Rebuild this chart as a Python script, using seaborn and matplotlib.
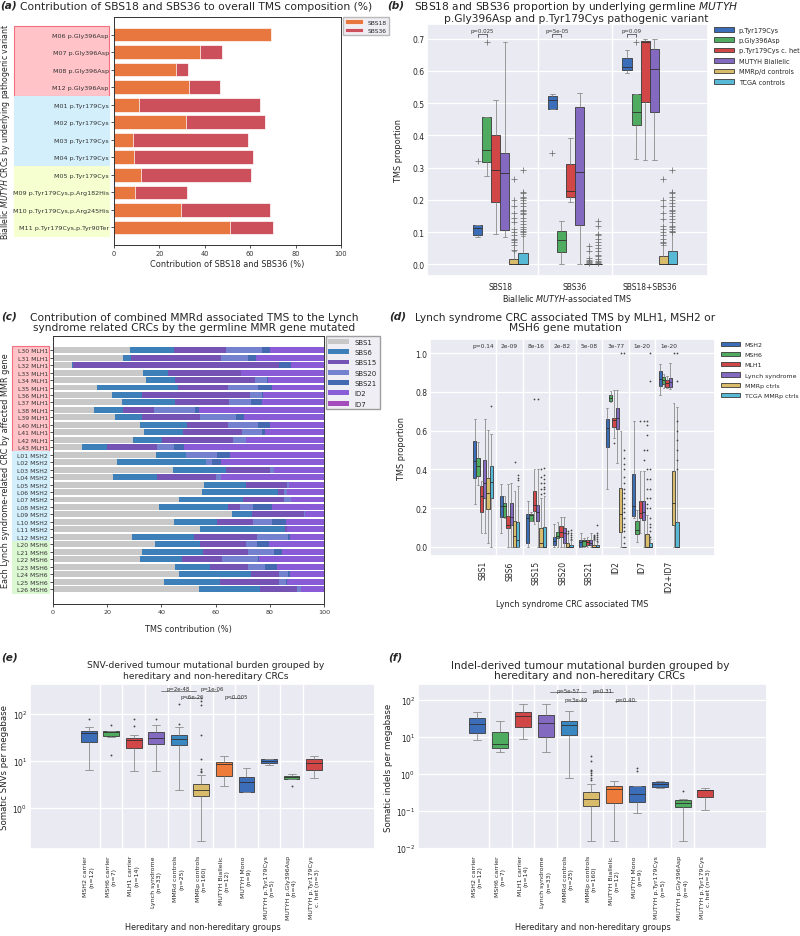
import numpy as np
import pandas as pd
import matplotlib
matplotlib.use("Agg")
import matplotlib.pyplot as plt
import matplotlib.transforms as mtransforms
from matplotlib.patches import Rectangle
import seaborn as sns

# ---------------- panel (a) data ----------------
a_samples = ["M06 p.Gly396Asp", "M07 p.Gly396Asp", "M08 p.Gly396Asp", "M12 p.Gly396Asp",
             "M01 p.Tyr179Cys", "M02 p.Tyr179Cys", "M03 p.Tyr179Cys", "M04 p.Tyr179Cys",
             "M05 p.Tyr179Cys", "M09 p.Tyr179Cys,p.Arg182His", "M10 p.Tyr179Cys,p.Arg245His",
             "M11 p.Tyr179Cys,p.Tyr90Ter"]
a_sbs18 = [69.3, 37.9, 27.4, 33.2, 11.0, 31.8, 8.5, 8.8, 12.1, 9.3, 29.4, 50.9]
a_sbs36 = [0.0, 9.6, 5.1, 13.4, 53.3, 34.7, 50.6, 52.5, 48.2, 22.8, 39.4, 19.2]
a_blocks = [4, 4, 4]

# ---------------- panel (b) data: [whisker low, Q1, median, Q3, whisker high] ----------------
b_cats = ["SBS18", "SBS36", "SBS18+SBS36"]
b_groups = ["p.Tyr179Cys", "p.Gly396Asp", "p.Tyr179Cys c. het", "MUTYH Biallelic",
            "MMRp/d controls", "TCGA controls"]
b_tyr179 = [[0.086, 0.090, 0.113, 0.121, 0.121], [0.483, 0.483, 0.509, 0.522, 0.528], [0.592, 0.603, 0.612, 0.641, 0.663]]
b_gly396 = [[0.275, 0.318, 0.356, 0.457, 0.457], [0.0, 0.038, 0.075, 0.105, 0.133], [0.326, 0.432, 0.471, 0.528, 0.528]]
b_chet = [[0.093, 0.193, 0.293, 0.400, 0.508], [0.193, 0.210, 0.228, 0.310, 0.393], [0.322, 0.504, 0.690, 0.693, 0.700]]
b_biallelic = [[0.085, 0.108, 0.284, 0.345, 0.690], [0.0, 0.123, 0.287, 0.488, 0.530], [0.322, 0.472, 0.607, 0.668, 0.700]]
b_mmr = [[0.0, 0.0, 0.0, 0.017, 0.040], [0.0, 0.0, 0.0, 0.0, 0.0], [0.0, 0.0, 0.0, 0.025, 0.060]]
b_tcga = [[0.0, 0.0, 0.0, 0.035, 0.088], [0.0, 0.0, 0.0, 0.0, 0.0], [0.0, 0.0, 0.0, 0.040, 0.100]]
b_out_tyr179 = [[0.32], [0.345], []]
b_out_gly396 = [[0.69], [], [0.69]]
b_out_chet = [[], [], []]
b_out_biallelic = [[], [], []]
b_out_mmr = [[0.045, 0.06, 0.07, 0.075, 0.08, 0.09, 0.10, 0.11, 0.13, 0.145, 0.16, 0.18, 0.20, 0.265],
             [0.003, 0.006, 0.01, 0.015, 0.02, 0.04, 0.057],
             [0.065, 0.07, 0.08, 0.09, 0.10, 0.11, 0.12, 0.14, 0.16, 0.18, 0.20, 0.265]]
b_out_tcga = [[0.095, 0.10, 0.105, 0.11, 0.115, 0.125, 0.135, 0.145, 0.155, 0.16, 0.165, 0.17, 0.18, 0.19, 0.20, 0.205, 0.21, 0.22, 0.225, 0.293],
              [0.003, 0.008, 0.012, 0.018, 0.025, 0.03, 0.04, 0.05, 0.06, 0.07, 0.08, 0.09, 0.095, 0.12, 0.135],
              [0.10, 0.105, 0.11, 0.115, 0.12, 0.13, 0.14, 0.15, 0.16, 0.165, 0.17, 0.18, 0.19, 0.20, 0.21, 0.22, 0.225, 0.293]]
b_pvals = ["p=0.025", "p=5e-05", "p=0.09"]

# ---------------- panel (c) data ----------------
c_samples = ["L30 MLH1", "L31 MLH1", "L32 MLH1", "L33 MLH1", "L34 MLH1", "L35 MLH1", "L36 MLH1",
             "L37 MLH1", "L38 MLH1", "L39 MLH1", "L40 MLH1", "L41 MLH1", "L42 MLH1", "L43 MLH1",
             "L01 MSH2", "L02 MSH2", "L03 MSH2", "L04 MSH2", "L05 MSH2", "L06 MSH2", "L07 MSH2",
             "L08 MSH2", "L09 MSH2", "L10 MSH2", "L11 MSH2", "L12 MSH2",
             "L20 MSH6", "L21 MSH6", "L22 MSH6", "L23 MSH6", "L24 MSH6", "L25 MSH6", "L26 MSH6"]
c_sbs1 = [28.3, 25.9, 7.1, 33.3, 34.2, 16.3, 21.9, 25.4, 15.3, 22.9, 32.0, 33.5, 29.6, 10.7, 37.9, 23.6, 44.1,
          22.3, 55.7, 54.9, 46.6, 39.0, 65.9, 44.7, 54.4, 29.1, 37.8, 32.9, 32.1, 45.2, 46.4, 41.0, 53.9]
c_sbs6 = [16.4, 2.8, 0.3, 9.1, 11.0, 29.9, 11.1, 19.8, 10.6, 10.1, 17.3, 14.5, 10.7, 9.3, 11.1, 32.7, 19.7,
          15.9, 15.4, 28.0, 23.6, 25.4, 7.4, 15.8, 31.2, 22.9, 16.5, 22.3, 15.6, 12.9, 26.5, 20.6, 22.5]
c_sbs15 = [19.1, 33.2, 76.1, 26.8, 29.3, 18.2, 39.7, 19.7, 11.3, 21.2, 15.1, 21.7, 26.0, 18.5, 0.0, 0.0, 16.2,
           21.9, 15.1, 2.3, 15.0, 4.6, 19.4, 13.4, 0.9, 23.1, 17.1, 16.6, 14.6, 13.9, 10.6, 21.9, 13.7]
c_sbs20 = [13.5, 10.1, 0.0, 0.0, 4.3, 11.1, 4.6, 8.1, 15.3, 13.3, 11.1, 7.3, 5.1, 6.3, 11.5, 2.3, 1.5,
           1.8, 1.0, 1.0, 2.6, 4.9, 0.4, 6.9, 0.0, 11.7, 3.7, 9.7, 13.4, 6.2, 3.3, 2.3, 1.3]
c_sbs21 = [2.7, 2.9, 4.3, 0.0, 0.6, 5.2, 0.3, 4.0, 1.4, 2.8, 4.5, 1.4, 0.0, 3.5, 4.8, 3.3, 0.0,
           0.0, 0.0, 0.0, 0.0, 6.9, 0.0, 5.0, 0.0, 0.6, 4.7, 2.9, 0.3, 4.3, 0.6, 0.4, 0.0]
c_id2 = [20.0, 25.1, 12.2, 30.8, 20.6, 19.3, 22.4, 23.0, 46.1, 29.7, 20.0, 21.6, 28.6, 51.7, 34.7, 38.1, 18.5,
         38.1, 12.8, 13.8, 12.2, 19.2, 6.9, 14.2, 13.5, 12.6, 20.2, 15.6, 24.0, 17.5, 12.6, 13.8, 8.6]
c_id7 = [0.0, 0.0, 0.0, 0.0, 0.0, 0.0, 0.0, 0.0, 0.0, 0.0, 0.0, 0.0, 0.0, 0.0, 0.0, 0.0, 0.0,
         0.0, 0.0, 0.0, 0.0, 0.0, 0.0, 0.0, 0.0, 0.0, 0.0, 0.0, 0.0, 0.0, 0.0, 0.0, 0.0]
c_signatures = ["SBS1", "SBS6", "SBS15", "SBS20", "SBS21", "ID2", "ID7"]
c_blocks = [14, 12, 7]

# ---------------- panel (d) data ----------------
d_cats = ["SBS1", "SBS6", "SBS15", "SBS20", "SBS21", "ID2", "ID7", "ID2+ID7"]
d_groups = ["MSH2", "MSH6", "MLH1", "Lynch syndrome", "MMRp ctrls", "TCGA MMRp ctrls"]
d_msh2 = [[0.222, 0.355, 0.445, 0.545, 0.658], [0.073, 0.152, 0.211, 0.26, 0.326], [0.0, 0.017, 0.147, 0.17, 0.234],
          [0.0, 0.009, 0.031, 0.052, 0.12], [0.0, 0.0, 0.026, 0.035, 0.069], [0.298, 0.516, 0.615, 0.661, 0.719],
          [0.147, 0.161, 0.211, 0.377, 0.649], [0.783, 0.831, 0.869, 0.909, 0.947]]
d_msh6 = [[0.32, 0.367, 0.416, 0.457, 0.54], [0.147, 0.152, 0.208, 0.225, 0.26], [0.135, 0.135, 0.164, 0.17, 0.18],
          [0.0, 0.043, 0.055, 0.078, 0.13], [0.0, 0.003, 0.031, 0.035, 0.043], [0.75, 0.753, 0.771, 0.784, 0.805],
          [0.026, 0.066, 0.087, 0.135, 0.19], [0.822, 0.84, 0.861, 0.88, 0.895]]
d_mlh1 = [[0.07, 0.177, 0.26, 0.312, 0.338], [0.0, 0.095, 0.113, 0.159, 0.326], [0.12, 0.187, 0.216, 0.286, 0.4],
          [0.0, 0.052, 0.078, 0.109, 0.152], [0.0, 0.009, 0.023, 0.035, 0.052], [0.563, 0.62, 0.655, 0.667, 0.81],
          [0.069, 0.147, 0.173, 0.237, 0.39], [0.819, 0.828, 0.848, 0.861, 0.883]]
d_lynch = [[0.07, 0.251, 0.33, 0.447, 0.658], [0.0, 0.113, 0.156, 0.225, 0.33], [0.0, 0.135, 0.18, 0.216, 0.4],
           [0.0, 0.017, 0.069, 0.099, 0.152], [0.0, 0.009, 0.017, 0.035, 0.069], [0.433, 0.61, 0.667, 0.719, 0.81],
           [0.0, 0.139, 0.177, 0.234, 0.39], [0.817, 0.828, 0.854, 0.873, 0.952]]
d_mmrp = [[0.017, 0.194, 0.277, 0.355, 0.606], [0.0, 0.0, 0.055, 0.133, 0.29], [0.0, 0.0, 0.017, 0.095, 0.25],
          [0.0, 0.0, 0.0, 0.017, 0.066], [0.0, 0.0, 0.0, 0.009, 0.035], [0.0, 0.078, 0.17, 0.303, 0.6],
          [0.0, 0.0, 0.0, 0.066, 0.165], [0.0, 0.113, 0.225, 0.39, 0.741]]
d_tcga = [[0.0, 0.251, 0.333, 0.416, 0.585], [0.0, 0.0, 0.035, 0.128, 0.315], [0.0, 0.0, 0.0, 0.1, 0.26],
          [0.0, 0.0, 0.0, 0.009, 0.035], [0.0, 0.0, 0.0, 0.009, 0.026], [0.0, 0.0, 0.0, 0.0, 0.0],
          [0.0, 0.0, 0.0, 0.017, 0.04], [0.0, 0.0, 0.0, 0.13, 0.724]]
d_out_msh2 = [[], [], [], [], [], [], [], []]
d_out_msh6 = [[], [], [], [], [], [], [], []]
d_out_mlh1 = [[], [], [0.765], [], [], [0.535], [0.65], []]
d_out_lynch = [[], [], [0.765], [], [], [], [0.45, 0.5, 0.65], []]
d_out_mmrp = [[], [0.438], [0.27, 0.3, 0.33, 0.36, 0.4], [0.07, 0.08], [0.04, 0.045, 0.05, 0.055, 0.06], [1.0],
              [0.2, 0.22, 0.25, 0.3, 0.35, 0.4, 0.5, 0.58, 0.63, 0.65], [1.0]]
d_out_tcga = [[0.73], [0.343, 0.355, 0.37], [0.28, 0.3, 0.31, 0.33, 0.35, 0.37, 0.405], [0.04, 0.05, 0.06, 0.07, 0.085],
              [0.03, 0.04, 0.05, 0.06, 0.07, 0.11],
              [0.02, 0.05, 0.08, 0.1, 0.12, 0.15, 0.18, 0.2, 0.22, 0.25, 0.28, 0.3, 0.33, 0.36, 0.4, 0.43, 0.46, 0.5, 1.0],
              [0.05, 0.08, 0.1, 0.12, 0.15, 0.2, 0.25, 0.3, 0.35, 0.4, 0.855, 1.0],
              [0.4, 0.45, 0.5, 0.55, 0.6, 0.65, 0.855, 1.0]]
d_pvals = ["p=0.14", "2e-09", "8e-16", "2e-82", "5e-08", "3e-77", "1e-20", "1e-20"]

# ---------------- panels (e) and (f) data ----------------
ef_groups = ["MSH2 carrier", "MSH6 carrier", "MLH1 carrier", "Lynch syndrome", "MMRd controls", "MMRp controls",
             "MUTYH Biallelic", "MUTYH Mono", "MUTYH p.Tyr179Cys", "MUTYH p.Gly396Asp", "MUTYH p.Tyr179Cys c. het"]
ef_ticklabels = ["MSH2 carrier\n(n=12)", "MSH6 carrier\n(n=7)", "MLH1 carrier\n(n=14)", "Lynch syndrome\n(n=33)",
                 "MMRd controls\n(n=25)", "MMRp controls\n(n=160)", "MUTYH Biallelic\n(n=12)", "MUTYH Mono\n(n=9)",
                 "MUTYH p.Tyr179Cys\n(n=5)", "MUTYH p.Gly396Asp\n(n=4)", "MUTYH p.Tyr179Cys\nc. het (n=3)"]
e_stats = [[6.4, 25.3, 38.5, 43.0, 54.0], [32.3, 33.8, 41.0, 43.0, 43.0], [6.2, 18.7, 28.3, 31.0, 35.0],
           [6.2, 23.4, 31.2, 41.8, 57.6], [2.43, 22.0, 28.9, 36.6, 53.0], [0.199, 1.79, 2.36, 3.25, 5.1],
           [3.0, 4.7, 8.6, 9.6, 12.8], [2.14, 2.24, 3.65, 4.5, 7.0], [8.2, 9.0, 10.1, 10.9, 10.9],
           [4.15, 4.15, 4.57, 4.9, 5.2], [4.3, 6.5, 8.9, 10.9, 12.8]]
e_outliers = [[78.5], [57.6, 13.1], [78.5, 55.0], [78.5], [162.0, 61.6], [218.0, 190.0, 157.0, 35.0, 10.9, 6.7, 6.2, 5.8],
              [], [], [], [3.0], []]
e_pvals = ["p=2e-48", "p=6e-26", "p=1e-06", "p=0.005"]
f_stats = [[8.1, 12.3, 22.4, 32.6, 47.0], [3.8, 4.8, 6.4, 13.7, 26.7], [8.7, 18.7, 37.0, 45.7, 76.6],
           [3.8, 10.0, 23.5, 38.7, 76.6], [0.78, 11.2, 21.2, 27.2, 48.6], [0.0149, 0.134, 0.21, 0.319, 0.535],
           [0.0149, 0.164, 0.39, 0.46, 0.63], [0.088, 0.178, 0.287, 0.46, 0.46], [0.41, 0.435, 0.535, 0.59, 0.63],
           [0.0149, 0.126, 0.164, 0.2, 0.21], [0.106, 0.234, 0.36, 0.368, 0.41]]
f_outliers = [[], [], [], [], [], [2.98, 2.27, 1.3, 1.18, 1.06, 0.9, 0.76, 0.66], [], [1.42, 1.22], [], [0.34], []]
f_pvals = ["p=5e-57", "p=3e-49", "p=0.31", "p=0.40"]

# ---------------- colours ----------------
C_BLUE, C_GREEN, C_RED, C_PURPLE, C_YELLOW, C_CYAN = "#3b6db8", "#4eab5f", "#d14747", "#8469c0", "#d8bb6b", "#57b9d6"
C_ORANGE, C_MMRD = "#ee7b3a", "#3a88c2"
a_colors = {"SBS18": "#e8773f", "SBS36": "#cc4f5c"}
c_colors = {"SBS1": "#c8c8c8", "SBS6": "#3d7fb9", "SBS15": "#7553b5", "SBS20": "#7381cf",
            "SBS21": "#4569b0", "ID2": "#8a5bd6", "ID7": "#a54cbd"}
six = [C_BLUE, C_GREEN, C_RED, C_PURPLE, C_YELLOW, C_CYAN]
ef_colors = [C_BLUE, C_GREEN, C_RED, C_PURPLE, C_MMRD, C_YELLOW, C_ORANGE, C_BLUE, C_BLUE, C_GREEN, C_RED]

# ---------------- style / figure ----------------
sns.set_theme(style="darkgrid")
plt.rcParams["font.family"] = ["DejaVu Sans"]
plt.rcParams["grid.linewidth"] = 0.9
plt.rcParams["axes.labelcolor"] = "#222222"

FW, FH = 800, 937
fig = plt.figure(figsize=(FW / 100, FH / 100), dpi=100)


def rect(l, t, r, b):
    return [l / FW, 1 - b / FH, (r - l) / FW, (b - t) / FH]


with sns.axes_style("ticks"):
    ax_a = fig.add_axes(rect(114, 18, 341, 246))
    ax_c = fig.add_axes(rect(53, 337, 324, 605))
ax_b = fig.add_axes(rect(427, 25, 708, 277))
ax_d = fig.add_axes(rect(430, 340, 715, 557))
ax_e = fig.add_axes(rect(30, 685, 375, 850))
ax_f = fig.add_axes(rect(418, 685, 767, 850))

TICK = 5.5
LAB = 5.9
BOXKW = dict(whis=(0, 100), saturation=1, linewidth=0.6, linecolor="#3a3a3a", fliersize=0,
             whiskerprops=dict(color="#8c8c8c"), capprops=dict(color="#8c8c8c"),
             medianprops=dict(color="#2f2f2f"))


def block_rects(ax, blocks, x0, x1, styles):
    trans = mtransforms.blended_transform_factory(ax.transAxes, ax.transData)
    start = -0.5
    for n, (fc, ec) in zip(blocks, styles):
        ax.add_patch(Rectangle((x0, start), x1 - x0, n, transform=trans, facecolor=fc, edgecolor=ec,
                               lw=0.8, clip_on=False, zorder=0))
        start += n


def long_frame(cats, groups, stats, outs):
    rows, orows = [], []
    for g, st, ou in zip(groups, stats, outs):
        for c, s, o in zip(cats, st, ou):
            rows += [(c, g, v) for v in s]
            orows += [(c, g, v) for v in o]
    return (pd.DataFrame(rows, columns=["cat", "grp", "val"]),
            pd.DataFrame(orows, columns=["cat", "grp", "val"]))


def dodge_pos(odf, cats, groups, width):
    n = len(groups)
    ci = odf["cat"].map({c: i for i, c in enumerate(cats)})
    off = odf["grp"].map({g: width / n * (j + 0.5) - width / 2 for j, g in enumerate(groups)})
    return (ci + off).values


def cat_grid(ax, n):
    ax.set_xticks(np.arange(0.5, n - 1, 1.0), minor=True)
    ax.xaxis.grid(False, which="major")
    ax.xaxis.grid(True, which="minor", color="white", linewidth=1.0)
    ax.tick_params(axis="x", which="minor", length=0)
    ax.tick_params(axis="both", which="major", length=0)


# ================= panel (a) =================
dfa = pd.DataFrame({"sample": a_samples, "SBS18": a_sbs18, "SBS36": a_sbs36})
dfa["stack36"] = dfa["SBS18"] + dfa["SBS36"]
sns.barplot(data=dfa, x="stack36", y="sample", orient="h", color=a_colors["SBS36"], saturation=1, width=0.78,
            errorbar=None, label="SBS36", edgecolor="white", linewidth=0.5, ax=ax_a)
sns.barplot(data=dfa, x="SBS18", y="sample", orient="h", color=a_colors["SBS18"], saturation=1, width=0.78,
            errorbar=None, label="SBS18", edgecolor="white", linewidth=0.5, ax=ax_a)
ax_a.set_xlim(0, 100)
ax_a.set_ylim(12.0, -1.0)
ax_a.set_xticks(range(0, 101, 20))
ax_a.tick_params(axis="both", length=2.2, width=0.6, pad=1.5, colors="#333333")
ax_a.tick_params(axis="y", labelsize=4.6)
ax_a.tick_params(axis="x", labelsize=4.8)
for s in ax_a.spines.values():
    s.set_linewidth(0.7)
    s.set_color("#333333")
ax_a.set_xlabel("Contribution of SBS18 and SBS36 (%)", fontsize=LAB, labelpad=2)
ax_a.set_ylabel(r"Biallelic $\it{MUTYH}$ CRCs by underlying pathogenic variant", fontsize=5.6)
ax_a.yaxis.set_label_coords(-0.448, 0.5)
block_rects(ax_a, a_blocks, -0.44, -0.022, [("#ffc3c8", "#f27080"), ("#d3effc", "#d3effc"), ("#f6ffd0", "#f6ffd0")])
h, l = ax_a.get_legend_handles_labels()
ax_a.legend(h[::-1], l[::-1], loc="upper left", bbox_to_anchor=(1.008, 1.0), fontsize=4.3, handlelength=3.0,
            borderaxespad=0, frameon=True, edgecolor="#aaaaaa", fancybox=False, labelspacing=0.5)

# ================= panel (b) =================
dfb, dfb_out = long_frame(b_cats, b_groups, [b_tyr179, b_gly396, b_chet, b_biallelic, b_mmr, b_tcga],
                          [b_out_tyr179, b_out_gly396, b_out_chet, b_out_biallelic, b_out_mmr, b_out_tcga])
WB = 0.73
sns.boxplot(data=dfb, x="cat", y="val", hue="grp", order=b_cats, hue_order=b_groups,
            palette=dict(zip(b_groups, six)), width=WB, ax=ax_b, **BOXKW)
sns.scatterplot(x=dodge_pos(dfb_out, b_cats, b_groups, WB), y=dfb_out["val"].values, marker="+", s=14,
                color="#6f6f6f", linewidth=0.55, legend=False, zorder=4, ax=ax_b)
ax_b.set_xlim(-0.98, 2.78)
ax_b.set_ylim(-0.036, 0.745)
ax_b.set_yticks(np.arange(0, 0.71, 0.1))
ax_b.set_yticklabels([f"{v:.1f}" for v in np.arange(0, 0.71, 0.1)])
cat_grid(ax_b, len(b_cats))
ax_b.tick_params(axis="y", labelsize=TICK, pad=2)
ax_b.tick_params(axis="x", labelsize=TICK, pad=4)
ax_b.set_xlabel(r"Biallelic $\it{MUTYH}$-associated TMS", fontsize=LAB, labelpad=1)
ax_b.set_ylabel("TMS proportion", fontsize=LAB)
ax_b.yaxis.set_label_coords(-0.085, 0.5)
sns.move_legend(ax_b, "upper left", bbox_to_anchor=(1.012, 1.0), frameon=False, title=None, fontsize=4.7,
                handlelength=3.0, labelspacing=0.68, borderaxespad=0)
n6 = len(b_groups)
for i, txt in enumerate(b_pvals):
    x0 = i + WB / n6 * 0.5 - WB / 2
    x1 = i + WB / n6 * 1.5 - WB / 2
    ax_b.plot([x0, x0, x1, x1], [0.706, 0.7135, 0.7135, 0.706], color="#333333", lw=0.5)
    ax_b.text((x0 + x1) / 2, 0.716, txt, ha="center", va="bottom", fontsize=3.9, color="#333333")

# ================= panel (c) =================
dfc = pd.DataFrame({"sample": c_samples, "SBS1": c_sbs1, "SBS6": c_sbs6, "SBS15": c_sbs15, "SBS20": c_sbs20,
                    "SBS21": c_sbs21, "ID2": c_id2, "ID7": c_id7})
cum = dfc[c_signatures].cumsum(axis=1)
for sig in reversed(c_signatures):
    sns.barplot(x=cum[sig].values, y=dfc["sample"].values, orient="h", color=c_colors[sig], saturation=1,
                width=0.8, errorbar=None, label=sig, linewidth=0, ax=ax_c)
ax_c.set_xlim(0, 100)
ax_c.set_ylim(34.0, -1.9)
ax_c.set_xticks(range(0, 101, 20))
ax_c.tick_params(axis="both", length=2.2, width=0.6, pad=1.5, colors="#333333")
ax_c.tick_params(axis="y", labelsize=4.4)
ax_c.tick_params(axis="x", labelsize=4.6)
for s in ax_c.spines.values():
    s.set_linewidth(0.7)
    s.set_color("#333333")
ax_c.set_xlabel("TMS contribution (%)", fontsize=LAB, labelpad=7)
ax_c.set_ylabel("Each Lynch syndrome-related CRC by affected MMR gene", fontsize=LAB)
ax_c.yaxis.set_label_coords(-0.16, 0.5)
block_rects(ax_c, c_blocks, -0.151, -0.0148, [("#ffc3c8", "#f27080"), ("#d3effc", "#d3effc"), ("#dcf8d2", "#dcf8d2")])
h, l = ax_c.get_legend_handles_labels()
ax_c.legend(h[::-1], l[::-1], loc="upper left", bbox_to_anchor=(1.006, 1.0), fontsize=5.0, handlelength=3.0,
            borderaxespad=0, frameon=True, edgecolor="#888888", fancybox=False, labelspacing=0.62)

# ================= panel (d) =================
dfd, dfd_out = long_frame(d_cats, d_groups, [d_msh2, d_msh6, d_mlh1, d_lynch, d_mmrp, d_tcga],
                          [d_out_msh2, d_out_msh6, d_out_mlh1, d_out_lynch, d_out_mmrp, d_out_tcga])
WD = 0.75
sns.boxplot(data=dfd, x="cat", y="val", hue="grp", order=d_cats, hue_order=d_groups,
            palette=dict(zip(d_groups, six)), width=WD, ax=ax_d, **BOXKW)
sns.scatterplot(x=dodge_pos(dfd_out, d_cats, d_groups, WD), y=dfd_out["val"].values, marker="o", s=1.6,
                color="#444444", linewidth=0, legend=False, zorder=4, ax=ax_d)
ax_d.set_xlim(-2.0, 8.75)
ax_d.set_ylim(-0.048, 1.074)
ax_d.set_yticks(np.arange(0, 1.01, 0.2))
ax_d.set_yticklabels([f"{v:.1f}" for v in np.arange(0, 1.01, 0.2)])
cat_grid(ax_d, len(d_cats))
ax_d.tick_params(axis="y", labelsize=TICK, pad=2)
ax_d.tick_params(axis="x", labelsize=TICK, pad=3, rotation=90)
ax_d.set_xlabel("Lynch syndrome CRC associated TMS", fontsize=LAB, labelpad=5)
ax_d.set_ylabel("TMS proportion", fontsize=LAB)
ax_d.yaxis.set_label_coords(-0.085, 0.5)
sns.move_legend(ax_d, "upper left", bbox_to_anchor=(1.012, 1.0), frameon=False, title=None, fontsize=4.5,
                handlelength=3.0, labelspacing=0.78, borderaxespad=0)
for i, txt in enumerate(d_pvals):
    ax_d.text(i, 1.038, txt, ha="center", va="center", fontsize=4.2, color="#333333")


# ================= panels (e), (f) =================
def tmb_panel(ax, stats, outs, ylim, ylabel):
    df = pd.DataFrame([(g, v) for g, s in zip(ef_groups, stats) for v in s], columns=["grp", "val"])
    dfo = pd.DataFrame([(g, v) for g, s in zip(ef_groups, outs) for v in s], columns=["grp", "val"])
    ax.set_yscale("log")
    sns.boxplot(data=df, x="grp", y="val", hue="grp", order=ef_groups, hue_order=ef_groups,
                palette=dict(zip(ef_groups, ef_colors)), legend=False, dodge=False, width=0.7, ax=ax, **BOXKW)
    xo = dfo["grp"].map({g: i for i, g in enumerate(ef_groups)}).values
    sns.scatterplot(x=xo, y=dfo["val"].values, marker="o", s=1.8, color="#444444", linewidth=0,
                    legend=False, zorder=4, ax=ax)
    ax.set_xlim(-2.6, 12.7)
    ax.set_ylim(*ylim)
    ax.set_xticks(range(len(ef_groups)))
    ax.set_xticklabels(ef_ticklabels, rotation=90, fontsize=4.5)
    cat_grid(ax, len(ef_groups))
    ax.tick_params(axis="y", labelsize=TICK, pad=2)
    ax.tick_params(axis="x", pad=4.5)
    ax.set_xlabel("Hereditary and non-hereditary groups", fontsize=LAB, labelpad=2)
    ax.set_ylabel(ylabel, fontsize=6.2)


tmb_panel(ax_e, e_stats, e_outliers, (0.134, 435), "Somatic SNVs per megabase")
ax_e.yaxis.set_label_coords(-0.06, 0.5)
tmb_panel(ax_f, f_stats, f_outliers, (10 ** -2.03, 10 ** 2.42), "Somatic indels per megabase")
ax_f.yaxis.set_label_coords(-0.072, 0.5)

for ax, pv, spans in [(ax_e, e_pvals, [(3.2, 4.75, 313), (4.3, 4.9, 214), (5.2, 5.75, 313), (6.25, 6.8, 214)]),
                      (ax_f, f_pvals, [(3.2, 4.75, 158), (3.96, 4.75, 89), (5.05, 5.95, 158), (6.05, 6.95, 89)])]:
    for txt, (x0, x1, y) in zip(pv, spans):
        ax.plot([x0, x1], [y, y], color="#555555", lw=0.5)
        ax.text((x0 + x1) / 2, y * 0.97, txt, ha="center", va="bottom", fontsize=3.9, color="#333333")

# ================= titles & panel letters =================
def ftext(xp, yp, s, **kw):
    fig.text(xp / FW, 1 - yp / FH, s, **kw)


LET = dict(fontsize=7.6, fontweight="bold", fontstyle="italic", ha="left", va="center")
ftext(0, 6, "(a)", **LET)
ftext(387, 6, "(b)", **LET)
ftext(1, 317, "(c)", **LET)
ftext(389, 317, "(d)", **LET)
ftext(1, 658, "(e)", **LET)
ftext(388, 658, "(f)", **LET)
TT = dict(ha="center", va="center")
ftext(196, 7, "Contribution of SBS18 and SBS36 to overall TMS composition (%)", fontsize=7.75, **TT)
ftext(576, 12, "SBS18 and SBS36 proportion by underlying germline $\\it{MUTYH}$\n"
               "p.Gly396Asp and p.Tyr179Cys pathogenic variant", fontsize=7.7, linespacing=0.95, **TT)
ftext(194, 323, "Contribution of combined MMRd associated TMS to the Lynch\n"
                "syndrome related CRCs by the germline MMR gene mutated", fontsize=7.7, linespacing=1.0, **TT)
ftext(565, 323, "Lynch syndrome CRC associated TMS by MLH1, MSH2 or\nMSH6 gene mutation", fontsize=7.7,
      linespacing=1.05, **TT)
ftext(206, 671, "SNV-derived tumour mutational burden grouped by\nhereditary and non-hereditary CRCs", fontsize=6.6,
      linespacing=1.15, **TT)
ftext(590, 671, "Indel-derived tumour mutational burden grouped by\nhereditary and non-hereditary CRCs", fontsize=7.6,
      linespacing=1.0, **TT)

fig.savefig("out.png", dpi=100)
